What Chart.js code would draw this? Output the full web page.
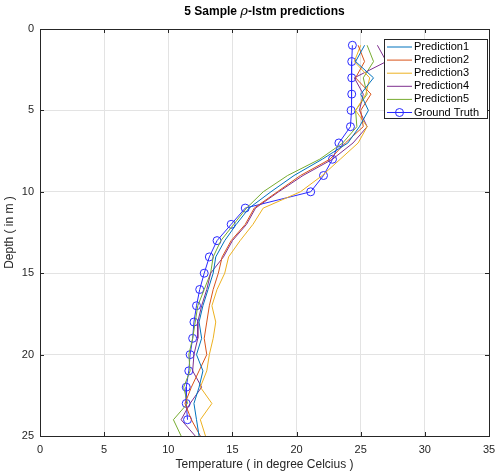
<!DOCTYPE html>
<html>
<head>
<meta charset="utf-8">
<script src="https://cdn.jsdelivr.net/npm/chart.js@4.4.0/dist/chart.umd.min.js"></script>
<style>
  html, body { margin:0; padding:0; background:#fff; }
</style>
</head>
<body>
<canvas id="depth-chart" width="495" height="474"></canvas>
<script>
/* 5 sample rho-lstm predictions vs ground truth, temperature by depth */

const depths     = [1,2,3,4,5,6,7,8,9,10,11,12,13,14,15,16,17,18,19,20,21,22,23,24,25];
const gtDepths   = [1,2,3,4,5,6,7,8,9,10,11,12,13,14,15,16,17,18,19,20,21,22,23,24];

const pred1 = [25.3,24.6,26.0,25.0,25.6,24.9,24.0,22.0,19.8,18.0,16.3,15.3,14.4,13.7,13.5,13.1,12.7,12.4,12.6,12.2,12.7,12.4,12.0,12.2,12.4];
const pred2 = [24.8,25.3,24.6,25.8,25.0,25.2,23.8,22.6,20.3,18.5,16.7,16.0,14.9,14.2,13.9,13.5,13.2,13.0,12.8,13.0,12.4,11.8,11.3,11.8,12.5];
const pred3 = [25.0,24.5,25.7,25.4,24.6,25.5,24.8,23.4,22.0,20.3,17.4,16.6,15.6,14.7,14.4,13.8,13.4,13.7,13.5,13.2,13.0,12.5,13.4,12.5,12.9];
const pred4 = [26.3,27.0,24.5,25.2,24.9,25.5,24.4,22.8,20.5,18.6,16.8,16.1,15.0,14.3,13.3,13.0,12.6,12.3,12.3,12.0,11.9,12.6,11.7,11.0,12.1];
const pred5 = [25.5,26.0,25.2,25.5,24.6,24.7,23.6,21.8,19.3,17.4,16.1,15.1,14.1,13.5,13.3,12.8,12.3,12.1,11.9,11.6,11.7,11.2,11.5,10.4,11.0];
const truth = [24.35,24.3,24.3,24.3,24.25,24.2,23.3,22.8,22.1,21.1,16.0,14.9,13.8,13.2,12.8,12.45,12.2,12.0,11.9,11.7,11.6,11.4,11.4,11.5];

const xTicks = [0,5,10,15,20,25,30,35];
const yTicks = [0,5,10,15,20,25];

const seriesNames  = ['Prediction1','Prediction2','Prediction3','Prediction4','Prediction5','Ground Truth'];
const seriesColors = ['#0072BD','#D95319','#EDB120','#7E2F8E','#77AC30','#2a2aff'];

const FONT = "'Liberation Sans', Arial, sans-serif";
const INK  = '#262626';

const pts = (xs, ys) => xs.map((v, i) => ({ x: v, y: ys[i] }));

const predSets = [pred1, pred2, pred3, pred4, pred5].map((arr, i) => ({
  label: seriesNames[i],
  data: pts(arr, depths),
  showLine: true,
  borderColor: seriesColors[i],
  borderWidth: 1,
  pointRadius: 0,
  tension: 0
}));

const gtSet = {
  label: seriesNames[5],
  data: pts(truth, gtDepths),
  showLine: true,
  borderColor: seriesColors[5],
  borderWidth: 1,
  pointRadius: 4,
  pointStyle: 'circle',
  pointBackgroundColor: 'rgba(0,0,0,0)',
  pointBorderColor: seriesColors[5],
  pointBorderWidth: 1,
  tension: 0
};

// box + inward ticks, like matlab axes
const boxPlugin = {
  id: 'box',
  afterDatasetsDraw(chart) {
    const { ctx, chartArea: a, scales } = chart;
    ctx.save();
    ctx.strokeStyle = INK;
    ctx.lineWidth = 1;
    ctx.strokeRect(a.left + 0.5, a.top + 0.5, a.right - a.left, a.bottom - a.top);
    ctx.beginPath();
    xTicks.forEach(v => {
      const px = Math.round(scales.x.getPixelForValue(v)) + 0.5;
      ctx.moveTo(px, a.bottom); ctx.lineTo(px, a.bottom - 4);
      ctx.moveTo(px, a.top);    ctx.lineTo(px, a.top + 4);
    });
    yTicks.forEach(v => {
      const py = Math.round(scales.y.getPixelForValue(v)) + 0.5;
      ctx.moveTo(a.left, py);  ctx.lineTo(a.left + 4, py);
      ctx.moveTo(a.right, py); ctx.lineTo(a.right - 4, py);
    });
    ctx.stroke();
    ctx.restore();
  },
  afterDraw(chart) {
    const { ctx, chartArea: a } = chart;
    ctx.save();
    // title with italic rho
    const parts = [
      { t: '5 Sample ', f: 'bold 12px ' + FONT },
      { t: 'ρ', f: 'italic 13px "DejaVu Serif", serif' },
      { t: '-lstm predictions', f: 'bold 12px ' + FONT }
    ];
    let w = 0;
    parts.forEach(p => { ctx.font = p.f; p.w = ctx.measureText(p.t).width; w += p.w; });
    let x = (a.left + a.right) / 2 - w / 2;
    ctx.fillStyle = '#000';
    ctx.textBaseline = 'middle';
    parts.forEach(p => { ctx.font = p.f; ctx.fillText(p.t, x, 12); x += p.w; });

    // legend box, top right inside the axes
    const bx = 384, by = 39, bw = 103, bh = 79, rowH = 13.1;
    ctx.fillStyle = '#fff';
    ctx.fillRect(bx, by, bw, bh);
    ctx.strokeStyle = INK;
    ctx.strokeRect(bx + 0.5, by + 0.5, bw, bh);
    ctx.font = '11px ' + FONT;
    ctx.textBaseline = 'middle';
    seriesNames.forEach((name, i) => {
      const yy = by + 8 + i * rowH;
      ctx.strokeStyle = seriesColors[i];
      ctx.beginPath();
      ctx.moveTo(bx + 3, yy); ctx.lineTo(bx + 28, yy);
      ctx.stroke();
      if (i === 5) {
        ctx.beginPath();
        ctx.arc(bx + 15.5, yy, 4, 0, Math.PI * 2);
        ctx.stroke();
      }
      ctx.fillStyle = '#000';
      ctx.fillText(name, bx + 30, yy);
    });
    ctx.restore();
  }
};

new Chart(document.getElementById('depth-chart'), {
  type: 'scatter',
  data: { datasets: [...predSets, gtSet] },
  options: {
    responsive: false,
    animation: false,
    layout: { padding: { top: 29, right: 0, left: 0, bottom: 0 } },
    plugins: { legend: { display: false }, title: { display: false }, tooltip: { enabled: false } },
    scales: {
      x: {
        type: 'linear', min: 0, max: 35,
        afterBuildTicks: s => { s.ticks = xTicks.map(v => ({ value: v })); },
        afterFit: s => { s.height = 38; s.paddingRight = 6; },
        grid: { color: '#e3e3e3', drawTicks: false },
        border: { display: false },
        ticks: { color: INK, font: { family: FONT, size: 11 }, padding: 7, maxRotation: 0 },
        title: { display: true, text: 'Temperature ( in degree Celcius )', color: INK,
                 font: { family: FONT, size: 12 }, padding: { top: 0, bottom: 2 } }
      },
      y: {
        type: 'linear', min: 0, max: 25, reverse: true,
        afterBuildTicks: s => { s.ticks = yTicks.map(v => ({ value: v })); },
        afterFit: s => { s.width = 40; },
        grid: { color: '#e3e3e3', drawTicks: false },
        border: { display: false },
        ticks: { color: INK, font: { family: FONT, size: 11 }, padding: 6 },
        title: { display: true, text: 'Depth ( in m )', color: INK,
                 font: { family: FONT, size: 12 }, padding: { top: 2, bottom: 0 } }
      }
    }
  },
  plugins: [boxPlugin]
});
</script>
</body>
</html>
